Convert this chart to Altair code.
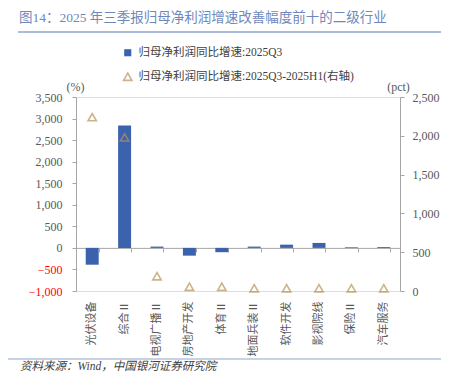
import altair as alt
import pandas as pd

categories = ["光伏设备", "综合Ⅱ", "电视广播Ⅱ", "房地产开发", "体育Ⅱ",
              "地面兵装Ⅱ", "软件开发", "影视院线", "保险Ⅱ", "汽车服务"]
q3_growth = [-390, 2840, 30, -180, -100, 30, 75, 115, 15, 20]
q3_vs_h1 = [2240, 1980, 190, 55, 55, 35, 35, 35, 35, 35]
series1 = "归母净利润同比增速:2025Q3"
series2 = "归母净利润同比增速:2025Q3-2025H1(右轴)"
left_ticks = [-1000, -500, 0, 500, 1000, 1500, 2000, 2500, 3000, 3500]
right_ticks = [0, 500, 1000, 1500, 2000, 2500]

df = pd.DataFrame({"cat": categories, "q3": q3_growth, "diff": q3_vs_h1,
                   "s1": series1, "s2": series2})

W, H = 324, 194
FONT = "Liberation Serif, Noto Sans CJK SC"
CJK = "Noto Sans CJK SC"
BLUE = "#3a62ad"
TAN = "#b8925a"
AX = "#a6a6a6"
LBL = "#595959"

xscale = alt.Scale(paddingInner=0.6, paddingOuter=0.3)
zero_offset = -H * 1000 / 4500

bars = alt.Chart(df).mark_bar(color=BLUE).encode(
    x=alt.X("cat:N", sort=categories, scale=xscale,
            axis=alt.Axis(orient="bottom", offset=zero_offset, labels=False,
                          domain=True, domainColor=AX, ticks=True, tickColor=AX,
                          tickSize=4, tickBand="extent", title=None)),
    y=alt.Y("q3:Q", scale=alt.Scale(domain=[-1000, 3500], nice=False),
            axis=alt.Axis(orient="left", values=left_ticks, format=",d",
                          grid=False, domainColor=AX, tickColor=AX, tickSize=4,
                          labelFont=FONT, labelFontSize=12, labelPadding=10,
                          labelColor=alt.expr("datum.value < 0 ? '#ff0000' : '#595959'"),
                          title="(%)", titleAngle=0, titleX=-1, titleY=-11,
                          titleAlign="center", titleBaseline="middle",
                          titleFont=FONT, titleFontSize=12, titleFontWeight="normal",
                          titleColor=LBL)),
    color=alt.Color("s1:N", scale=alt.Scale(domain=[series1], range=[BLUE]),
                    legend=alt.Legend(orient="none", legendX=46, legendY=-50,
                                      title=None, symbolType="square", symbolSize=50,
                                      labelFont=FONT, labelFontSize=11.5, labelLimit=0,
                                      labelColor="#404040", labelOffset=5)),
)

points = alt.Chart(df).mark_point(filled=False, color=TAN, strokeWidth=1.6, size=70).encode(
    x=alt.X("cat:N", sort=categories, scale=xscale,
            axis=alt.Axis(orient="bottom", domain=False, ticks=False, labelAngle=-90,
                          labelFont=CJK, labelFontSize=11, labelColor=LBL,
                          labelPadding=10, title=None)),
    y=alt.Y("diff:Q", scale=alt.Scale(domain=[0, 2500], nice=False),
            axis=alt.Axis(orient="right", values=right_ticks, format=",d",
                          grid=False, domainColor=AX, tickColor=AX, tickSize=4,
                          labelFont=FONT, labelFontSize=12, labelPadding=8,
                          labelColor=LBL,
                          title="(pct)", titleAngle=0, titleX=-2, titleY=-11,
                          titleAlign="center", titleBaseline="middle",
                          titleFont=FONT, titleFontSize=12, titleFontWeight="normal",
                          titleColor=LBL)),
    shape=alt.Shape("s2:N", scale=alt.Scale(domain=[series2], range=["triangle-up"]),
                    legend=alt.Legend(orient="none", legendX=46, legendY=-26,
                                      title=None, symbolSize=70,
                                      symbolStrokeColor=TAN, symbolFillColor="transparent",
                                      symbolStrokeWidth=1.6, labelLimit=0,
                                      labelFont=FONT, labelFontSize=11.5,
                                      labelColor="#404040", labelOffset=5)),
)

one = alt.Data(values=[{}])
title = alt.Chart(one).mark_text(
    text="图14：2025 年三季报归母净利润增速改善幅度前十的二级行业",
    font=FONT, fontSize=13.5, color="#6f88bb", align="left", baseline="middle"
).encode(x=alt.value(-57), y=alt.value(-79))
title_line = alt.Chart(one).mark_rule(color="#8fa5cf", strokeWidth=1.5).encode(
    x=alt.value(-58), x2=alt.value(365), y=alt.value(-65))
foot_line = alt.Chart(one).mark_rule(color="#8fa5cf", strokeWidth=1).encode(
    x=alt.value(-76), x2=alt.value(365), y=alt.value(262))
foot = alt.Chart(one).mark_text(
    text="资料来源：Wind，中国银河证券研究院", font=FONT, fontSize=11.5,
    fontStyle="italic", color="#404040", align="left", baseline="top"
).encode(x=alt.value(-56), y=alt.value(264))

chart = alt.layer(bars, points, title, title_line, foot_line, foot).resolve_scale(
    y="independent"
).resolve_axis(x="independent").properties(
    width=W, height=H,
    autosize=alt.AutoSizeParams(type="none"),
    padding={"left": 68, "top": 89, "right": 51, "bottom": 90},
).configure_view(stroke=None).configure(background="white")

chart.save("out.html", embed_options={"renderer": "svg", "actions": False})
